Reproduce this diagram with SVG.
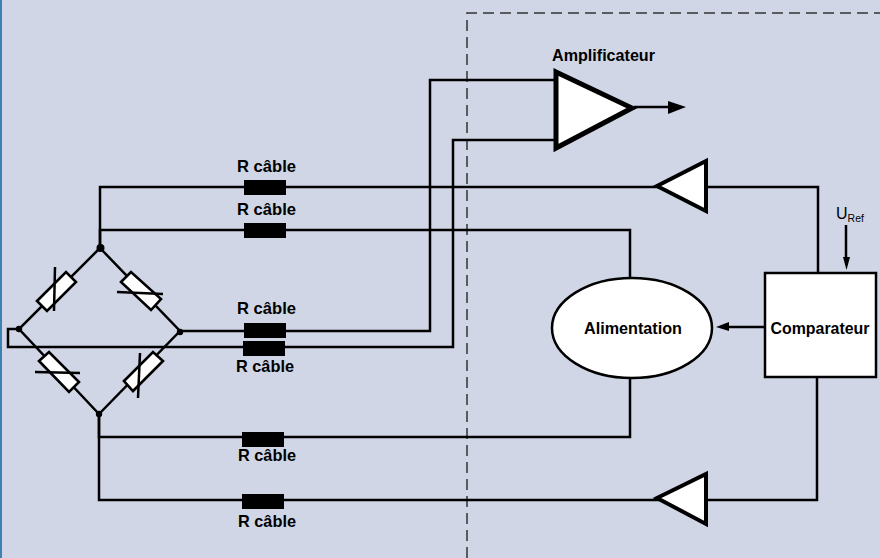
<svg xmlns="http://www.w3.org/2000/svg" width="880" height="558" viewBox="0 0 880 558">
<style>
.w{fill:none;stroke:#000;stroke-width:2.5}
.r{fill:#000}
.e{fill:#fff;stroke:#000;stroke-width:2.6}
.t{font-family:"Liberation Sans",Arial,sans-serif;font-weight:bold;font-size:17px;fill:#000;text-anchor:middle}
.c{font-size:16.500px}
.u{font-family:"Liberation Sans",Arial,sans-serif;fill:#000;font-size:16px}
.s{font-size:10.500px}
</style>
<rect width="880" height="558" fill="#d0d6e6"/>
<rect width="2" height="558" fill="#3f80b4"/>
<path d="M467 558V13H880" fill="none" stroke="#333" stroke-width="1.500" stroke-dasharray="11 6"/>
<g id="connectors">
<path class="w" d="M100 248V187H818V272"/>
<path class="w" d="M100 248V230H630V278"/>
<path class="w" d="M180 331H430V80H556"/>
<path class="w" d="M19 329H8V347H453V140H556"/>
<path class="w" d="M634 107H670"/>
<path class="r" d="M668 101L686 107L668 114Z"/>
<path class="w" d="M99 414V437H630V378"/>
<path class="w" d="M99 414V500H817V377"/>
<path class="w" d="M846 225V258"/>
<path class="r" d="M843 257H850L846.500 270Z"/>
<path class="w" d="M765 327H725"/>
<path class="r" d="M729 322V331L716 327Z"/>
<path class="w" d="M100 248L19 329L99 414L180 331Z"/>
</g>
<g id="bridge">
<circle class="r" cx="100.500" cy="248" r="4"/><circle class="r" cx="19" cy="329" r="3.200"/><circle class="r" cx="180" cy="332" r="3.200"/><circle class="r" cx="99" cy="414" r="3.200"/>
<path class="e" d="M37 301L66 272L76 282L47 311Z"/>
<path class="e" d="M121 282L131 272L161 299L151 310Z"/>
<path class="e" d="M39 361L49 352L79 382L69 392Z"/>
<path class="e" d="M124 381L153 352L163 361L133 391Z"/>
<path class="w" d="M55 267L54 311"/><path class="w" d="M117 292L163 294"/><path class="w" d="M35 372L80 373"/><path class="w" d="M140 353L138 398"/>
</g>
<g id="rcable"><rect class="r" x="244" y="180" width="42" height="15"/><rect class="r" x="244" y="223" width="42" height="15"/><rect class="r" x="244" y="323" width="42" height="15"/><rect class="r" x="243" y="341" width="42" height="15"/><rect class="r" x="242" y="432" width="42" height="15"/><rect class="r" x="242" y="494" width="42" height="15"/></g>
<g id="labels">
<text class="t c" x="266.500" y="172" textLength="59" lengthAdjust="spacingAndGlyphs">R câble</text>
<text class="t c" x="266.500" y="215" textLength="59" lengthAdjust="spacingAndGlyphs">R câble</text>
<text class="t c" x="266.500" y="314" textLength="59" lengthAdjust="spacingAndGlyphs">R câble</text>
<text class="t c" x="265" y="372" textLength="58" lengthAdjust="spacingAndGlyphs">R câble</text>
<text class="t c" x="267" y="461" textLength="58" lengthAdjust="spacingAndGlyphs">R câble</text>
<text class="t c" x="267" y="527" textLength="58" lengthAdjust="spacingAndGlyphs">R câble</text>
</g>
<g id="amplificateur"><path d="M556 72L632 108L556 148Z" fill="#fff" stroke="#000" stroke-width="5"/><text class="t" x="603.500" y="61" textLength="103" lengthAdjust="spacingAndGlyphs">Amplificateur</text></g>
<g id="buffer-top"><path d="M657 186L706 161V211Z" fill="#fff" stroke="#000" stroke-width="4"/></g>
<g id="buffer-bottom"><path d="M657 498L706 474V524Z" fill="#fff" stroke="#000" stroke-width="4"/></g>
<g id="alimentation"><ellipse cx="632" cy="328" rx="80" ry="50" fill="#fff" stroke="#000" stroke-width="2.500"/><text class="t" x="633" y="334" textLength="98" lengthAdjust="spacingAndGlyphs">Alimentation</text></g>
<g id="comparateur"><rect x="765" y="273" width="111" height="104" fill="#fff" stroke="#000" stroke-width="2.500"/><text class="t" x="820" y="334" textLength="99" lengthAdjust="spacingAndGlyphs">Comparateur</text></g>
<g id="uref"><text class="u" x="836" y="219">U<tspan class="s" dy="3">Ref</tspan></text></g>
</svg>
